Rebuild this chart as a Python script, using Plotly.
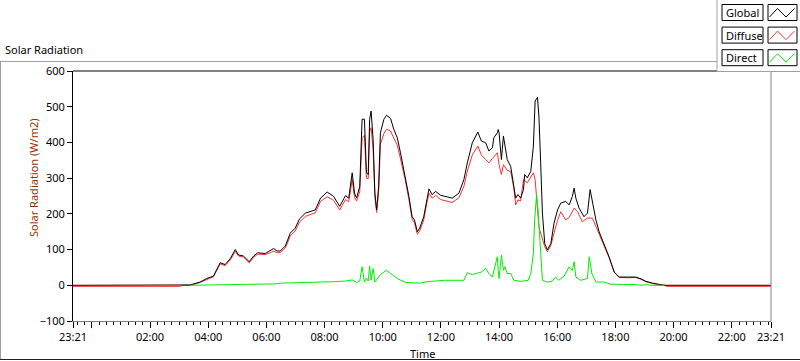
import plotly.graph_objects as go

# ---------------- data (time in hours from midnight; axis runs 23:21 -> 23:21) -------------
global_t = [-0.65, 3.10, 3.38, 3.72, 3.95, 4.18, 4.41, 4.58, 4.76, 4.93, 5.04, 5.21, 5.41, 5.56, 5.70,
            5.96, 6.13, 6.25, 6.36, 6.48, 6.65, 6.82, 6.99, 7.14, 7.34, 7.68, 7.86, 8.09, 8.31, 8.52,
            8.72, 8.83, 8.95, 9.03, 9.10, 9.21, 9.29, 9.37, 9.44, 9.50, 9.55, 9.60, 9.67, 9.73, 9.79,
            9.86, 9.92, 10.04, 10.13, 10.27, 10.38, 10.50, 10.61, 10.78, 10.90, 11.01, 11.09, 11.19,
            11.27, 11.41, 11.51, 11.59, 11.70, 11.82, 11.99, 12.16, 12.39, 12.62, 12.79, 12.91, 13.08,
            13.27, 13.39, 13.54, 13.65, 13.77, 13.82, 13.94, 13.97, 14.00, 14.08, 14.15, 14.20, 14.28,
            14.40, 14.51, 14.57, 14.65, 14.74, 14.84, 14.88, 14.97, 15.09, 15.18, 15.24, 15.32, 15.37,
            15.43, 15.49, 15.57, 15.66, 15.78, 15.89, 16.01, 16.12, 16.29, 16.41, 16.52, 16.58, 16.64,
            16.75, 16.92, 17.04, 17.13, 17.21, 17.33, 17.44, 17.61, 17.78, 17.96, 18.13, 18.42, 18.70,
            18.88, 19.05, 19.28, 19.51, 19.68, 23.35]
global_v = [0, 0, 1, 9, 19, 26, 63, 58, 75, 100, 85, 82, 66, 82, 91,
            89, 96, 103, 96, 96, 110, 146, 160, 186, 202, 211, 244, 261, 249, 221,
            251, 244, 315, 258, 244, 277, 465, 465, 315, 310, 465, 488, 408, 258, 211,
            277, 427, 465, 476, 467, 437, 413, 371, 305, 249, 192, 183, 150,
            160, 192, 239, 270, 254, 263, 252, 249, 244, 258, 296, 343, 399,
            429, 404, 399, 376, 385, 413, 427, 436, 427, 352, 418, 390, 352,
            333, 277, 244, 254, 244, 268, 310, 301, 319, 390, 516, 526, 474,
            343, 202, 117, 99, 117, 174, 211, 230, 235, 225, 249, 272, 244,
            216, 192, 202, 268, 230, 183, 150, 117, 80, 37, 23, 23, 23,
            18, 11, 6, 2, 0, 0]

diffuse_t = [-0.65, 3.05, 3.10, 3.38, 3.72, 3.95, 4.18, 4.41, 4.58, 4.76, 4.93, 5.04, 5.21, 5.41, 5.56,
             5.70, 5.96, 6.13, 6.25, 6.36, 6.48, 6.65, 6.82, 6.99, 7.14, 7.34, 7.68, 7.86, 8.09, 8.31,
             8.52, 8.72, 8.83, 8.95, 9.03, 9.10, 9.21, 9.29, 9.37, 9.44, 9.50, 9.55, 9.60, 9.67, 9.73,
             9.79, 9.86, 9.92, 10.04, 10.13, 10.27, 10.38, 10.50, 10.61, 10.78, 10.90, 11.01, 11.09,
             11.19, 11.27, 11.41, 11.51, 11.59, 11.70, 11.82, 11.99, 12.16, 12.39, 12.62, 12.79, 12.91,
             13.08, 13.27, 13.39, 13.54, 13.65, 13.77, 13.94, 14.00, 14.08, 14.15, 14.28, 14.40, 14.51,
             14.57, 14.65, 14.74, 14.84, 14.97, 15.09, 15.18, 15.24, 15.32, 15.37, 15.43, 15.57, 15.66,
             15.78, 15.89, 16.01, 16.12, 16.29, 16.41, 16.52, 16.58, 16.70, 16.86, 17.04, 17.21, 17.38,
             17.61, 17.78, 17.96, 18.13, 18.42, 18.70, 18.88, 19.05, 19.28, 19.51, 19.72, 19.75, 23.35]
diffuse_v = [-3, -3, 0, 0, 8, 17, 24, 60, 55, 71, 95, 82, 79, 63, 78,
             87, 86, 91, 96, 91, 92, 104, 138, 152, 177, 193, 203, 235, 248, 238,
             211, 240, 234, 296, 246, 236, 262, 413, 420, 300, 298, 430, 441, 380, 248,
             204, 262, 395, 425, 437, 432, 412, 392, 354, 293, 240, 185, 175,
             143, 152, 183, 228, 258, 244, 252, 240, 237, 232, 245, 277, 320,
             365, 390, 365, 352, 343, 355, 371, 338, 310, 338, 322, 319, 272,
             225, 239, 236, 296, 287, 302, 315, 296, 202, 164, 146, 108, 94,
             112, 146, 182, 206, 183, 190, 206, 216, 206, 178, 188, 188, 155,
             113, 78, 36, 22, 21, 22, 17, 10, 5, 1, 0, -3, -3]

direct_t = [3.38, 4.58, 4.62, 5.30, 6.30, 6.50, 7.14, 7.86, 8.31, 8.72, 8.95, 9.10, 9.21, 9.29, 9.37,
            9.44, 9.50, 9.55, 9.60, 9.67, 9.73, 9.79, 9.92, 10.04, 10.13, 10.27, 10.50, 10.78, 11.09,
            11.27, 11.51, 11.99, 12.16, 12.79, 12.91, 13.08, 13.39, 13.54, 13.65, 13.77, 13.94, 13.97,
            14.00, 14.08, 14.15, 14.20, 14.28, 14.40, 14.51, 14.74, 15.00, 15.09, 15.18, 15.22, 15.29,
            15.34, 15.40, 15.49, 15.66, 15.82, 15.94, 16.05, 16.24, 16.41, 16.52, 16.58, 16.64, 16.81,
            17.04, 17.10, 17.19, 17.33, 17.61, 17.84, 18.70, 18.88, 19.10, 19.20, 19.68]
direct_v = [0, 1, 3, 3, 4, 6, 7, 8, 10, 12, 15, 8, 12, 52, 9,
            20, 12, 54, 14, 47, 9, 15, 30, 37, 42, 33, 19, 8, 8,
            6, 10, 12, 14, 14, 35, 30, 37, 47, 33, 23, 80, 42,
            19, 85, 42, 52, 33, 33, 14, 11, 14, 33, 89, 180, 254,
            211, 127, 14, 9, 11, 23, 14, 26, 52, 42, 66, 23, 14,
            19, 80, 33, 9, 9, 3, 2, 0, 2, 0, 0]

x_tickvals = [-0.65, 0, 2, 4, 6, 8, 10, 12, 14, 16, 18, 20, 22, 23.35]
x_ticktext = ["23:21", "", "02:00", "04:00", "06:00", "08:00", "10:00", "12:00", "14:00",
              "16:00", "18:00", "20:00", "22:00", "23:21"]
y_tickvals = [-100, 0, 100, 200, 300, 400, 500, 600]

legend_names = ["Global", "Diffuse", "Direct"]
legend_colors = ["#000000", "#ff3030", "#00ee00"]

# ---------------- layout geometry (pixels) ----------------
W, H = 800, 361
L, R, T, B = 73, 771, 71, 321
FONT = "Noto Sans"
FS = 11


def px(x):
    return (x - L) / (R - L)


def py(y):
    return (B - y) / (B - T)


fig = go.Figure()
fig.add_trace(go.Scatter(x=diffuse_t, y=diffuse_v, mode="lines", name="Diffuse",
                         line=dict(color=legend_colors[1], width=1)))
fig.add_trace(go.Scatter(x=global_t, y=global_v, mode="lines", name="Global",
                         line=dict(color=legend_colors[0], width=1)))
fig.add_trace(go.Scatter(x=direct_t, y=direct_v, mode="lines", name="Direct",
                         line=dict(color=legend_colors[2], width=1)))

shapes = []
# outer frame
shapes.append(dict(type="line", xref="paper", yref="paper", x0=px(0), x1=px(717), y0=py(61.5), y1=py(61.5),
                   line=dict(color="#a0a0a0", width=1)))
shapes.append(dict(type="line", xref="paper", yref="paper", x0=px(0.5), x1=px(0.5), y0=py(61.5), y1=py(360),
                   line=dict(color="#a0a0a0", width=1)))
shapes.append(dict(type="line", xref="paper", yref="paper", x0=px(0), x1=px(800), y0=py(359.5), y1=py(359.5),
                   line=dict(color="#202020", width=1)))
# plot area borders
shapes.append(dict(type="line", xref="paper", yref="paper", x0=0, x1=1, y0=1, y1=1,
                   line=dict(color="#000000", width=1)))
shapes.append(dict(type="line", xref="paper", yref="paper", x0=1, x1=1, y0=0, y1=1,
                   line=dict(color="#808080", width=1)))
# legend panel
shapes.append(dict(type="rect", xref="paper", yref="paper", x0=px(717), x1=px(801), y0=py(-1), y1=py(71.5),
                   fillcolor="#ffffff", line=dict(color="#a0a0a0", width=1)))
annotations = []
for i, (name, col) in enumerate(zip(legend_names, legend_colors)):
    off = i * 22.6
    shapes.append(dict(type="rect", xref="paper", yref="paper", x0=px(722), x1=px(763),
                       y0=py(4.5 + off), y1=py(20.5 + off), fillcolor="#ffffff",
                       line=dict(color="#000000", width=1)))
    shapes.append(dict(type="rect", xref="paper", yref="paper", x0=px(768), x1=px(797),
                       y0=py(4.5 + off), y1=py(20.5 + off), fillcolor="#ffffff",
                       line=dict(color="#000000", width=1)))
    path = "M {},{} L {},{} L {},{} L {},{}".format(
        px(769.5), py(17 + off), px(777.5), py(8.5 + off), px(786), py(17 + off), px(794.5), py(8.5 + off))
    shapes.append(dict(type="path", xref="paper", yref="paper", path=path,
                       line=dict(color=col, width=1)))
    annotations.append(dict(x=px(723.5), y=py(12.5 + off), xref="paper", yref="paper", text=name,
                            showarrow=False, xanchor="left", yanchor="middle",
                            font=dict(family=FONT, size=FS, color="#000000")))

annotations.append(dict(x=px(3), y=py(50), xref="paper", yref="paper", text="Solar Radiation",
                        showarrow=False, xanchor="left", yanchor="middle",
                        font=dict(family=FONT, size=FS, color="#000000")))
annotations.append(dict(x=px(33), y=py(178), xref="paper", yref="paper", text="Solar Radiation (W/m2)",
                        showarrow=False, xanchor="center", yanchor="middle", textangle=-90,
                        font=dict(family=FONT, size=FS, color="#993300")))
annotations.append(dict(x=px(422), y=py(353), xref="paper", yref="paper", text="Time",
                        showarrow=False, xanchor="center", yanchor="middle",
                        font=dict(family=FONT, size=FS, color="#000000")))

fig.update_layout(
    width=W, height=H, autosize=False,
    margin=dict(l=L, r=W - R, t=T, b=H - B, pad=0),
    paper_bgcolor="#ffffff", plot_bgcolor="#ffffff",
    showlegend=False,
    font=dict(family=FONT, size=FS, color="#000000"),
    shapes=shapes, annotations=annotations,
    xaxis=dict(range=[-0.65, 23.35], tickmode="array", tickvals=x_tickvals, ticktext=x_ticktext,
               ticks="outside", ticklen=6, tickcolor="#000000", showgrid=False, zeroline=False,
               showline=True, linecolor="#808080", linewidth=1,
               minor=dict(tickmode="linear", tick0=0, dtick=0.25, ticks="outside", ticklen=3,
                          tickcolor="#000000", showgrid=False),
               tickfont=dict(family=FONT, size=FS, color="#000000")),
    yaxis=dict(range=[-100, 600], tickmode="array", tickvals=y_tickvals,
               ticks="outside", ticklen=5, tickcolor="#000000", showgrid=False, zeroline=False,
               showline=True, linecolor="#000000", linewidth=1,
               tickfont=dict(family=FONT, size=FS, color="#000000")),
)

fig.write_html("out.html", include_plotlyjs=True, full_html=True,
               config={"displayModeBar": False},
               post_script="document.body.style.margin='0';document.body.style.overflow='hidden';")
